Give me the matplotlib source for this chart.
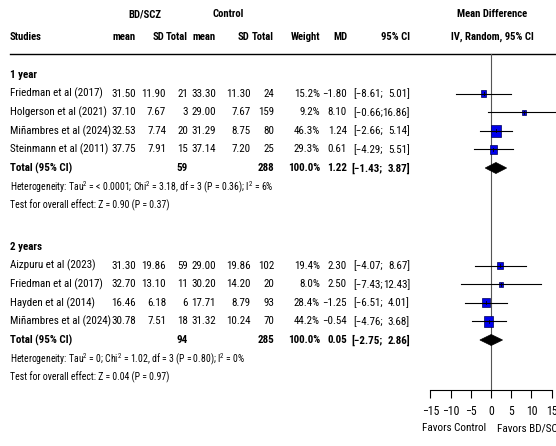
import matplotlib
matplotlib.use('Agg')
import matplotlib.pyplot as plt
from matplotlib.patches import Rectangle, Polygon

FONT = 'Roboto Condensed'
plt.rcParams['font.family'] = [FONT, 'Liberation Sans', 'DejaVu Sans']
plt.rcParams['mathtext.fontset'] = 'custom'
plt.rcParams['mathtext.rm'] = FONT
plt.rcParams['mathtext.it'] = FONT
plt.rcParams['mathtext.bf'] = FONT + ':bold'
plt.rcParams['axes.unicode_minus'] = True

# ---------------- data ----------------
studies_1y = ["Friedman et al (2017)", "Holgerson et al (2021)", "Miñambres et al (2024)", "Steinmann et al (2011)"]
bd_mean_1y = [31.50, 37.10, 32.53, 37.75]
bd_sd_1y = [11.90, 7.67, 7.74, 7.91]
bd_n_1y = [21, 3, 20, 15]
ct_mean_1y = [33.30, 29.00, 31.29, 37.14]
ct_sd_1y = [11.30, 7.67, 8.75, 7.20]
ct_n_1y = [24, 159, 80, 25]
weight_1y = [15.2, 9.2, 46.3, 29.3]
md_1y = [-1.80, 8.10, 1.24, 0.61]
lo_1y = [-8.61, -0.66, -2.66, -4.29]
hi_1y = [5.01, 16.86, 5.14, 5.51]
total_1y = [1.22, -1.43, 3.87]
ntot_1y = [59, 288]
het_1y = r"Heterogeneity: Tau$^2$ = < 0.0001; Chi$^2$ = 3.18, df = 3 (P = 0.36); I$^2$ = 6%"
test_1y = "Test for overall effect: Z = 0.90 (P = 0.37)"

studies_2y = ["Aizpuru et al (2023)", "Friedman et al (2017)", "Hayden et al (2014)", "Miñambres et al (2024)"]
bd_mean_2y = [31.30, 32.70, 16.46, 30.78]
bd_sd_2y = [19.86, 13.10, 6.18, 7.51]
bd_n_2y = [59, 11, 6, 18]
ct_mean_2y = [29.00, 30.20, 17.71, 31.32]
ct_sd_2y = [19.86, 14.20, 8.79, 10.24]
ct_n_2y = [102, 20, 93, 70]
weight_2y = [19.4, 8.0, 28.4, 44.2]
md_2y = [2.30, 2.50, -1.25, -0.54]
lo_2y = [-4.07, -7.43, -6.51, -4.76]
hi_2y = [8.67, 12.43, 4.01, 3.68]
total_2y = [0.05, -2.75, 2.86]
ntot_2y = [94, 285]
het_2y = r"Heterogeneity: Tau$^2$ = 0; Chi$^2$ = 1.02, df = 3 (P = 0.80); I$^2$ = 0%"
test_2y = "Test for overall effect: Z = 0.04 (P = 0.97)"

xticks = [-15, -10, -5, 0, 5, 10, 15]

# ---------------- layout ----------------
W, H = 556, 446
fig = plt.figure(figsize=(W / 100, H / 100), dpi=100)
tax = fig.add_axes([0, 0, 1, 1])
tax.set_xlim(0, W)
tax.set_ylim(H, 0)
tax.axis('off')

# forest axes: x in MD units, y in pixel rows
ZERO_PX, SCALE = 491.0, 4.04
FX0 = 410
fax = fig.add_axes([FX0 / W, 0, (W - FX0) / W, 1])
fax.set_xlim((FX0 - ZERO_PX) / SCALE, (W - ZERO_PX) / SCALE)
fax.set_ylim(H, 0)
fax.patch.set_visible(False)
for s in ['left', 'right', 'top']:
    fax.spines[s].set_visible(False)
AXIS_Y = 390
fax.spines['bottom'].set_position(('data', AXIS_Y))
fax.spines['bottom'].set_bounds(min(xticks), max(xticks))
fax.spines['bottom'].set_linewidth(0.8)
fax.set_yticks([])
fax.set_xticks(xticks)
fax.set_xticklabels([str(v).replace('-', '\u2212') for v in xticks])
fax.tick_params(axis='x', direction='out', length=6, width=0.8, pad=5, labelsize=8.5)

FS = 7.9
FS_HEAD = 7.7
FS_SMALL = 7
C_XS = dict(bd_mean=136, bd_sd=166, bd_n=188, ct_mean=216, ct_sd=251, ct_n=274,
            weight=320, md=347, ci_lo=383, ci_hi=410)


def txt(x, y, s, ha='right', bold=False, size=FS):
    tax.text(x, y, s, ha=ha, va='center', fontsize=size,
             fontweight='bold' if bold else 'normal')


def num(v, fmt="{:.2f}"):
    return fmt.format(v).replace('-', '\u2212')


# headers
txt(145, 14, "BD/SCZ", ha='center', bold=True, size=FS_HEAD)
txt(228, 14, "Control", ha='center', bold=True, size=FS_HEAD)
txt(492, 14, "Mean Difference", ha='center', bold=True, size=FS_HEAD)
HY = 37
txt(10, HY, "Studies", ha='left', bold=True, size=FS_HEAD)
head_shift = dict(bd_sd=-2, ct_sd=-2)
for key, lab in [('bd_mean', 'mean'), ('bd_sd', 'SD'), ('bd_n', 'Total'),
                 ('ct_mean', 'mean'), ('ct_sd', 'SD'), ('ct_n', 'Total'),
                 ('weight', 'Weight'), ('md', 'MD'), ('ci_hi', '95% CI')]:
    txt(C_XS[key] + head_shift.get(key, 0), HY, lab, bold=True, size=FS_HEAD)
txt(492, HY, "IV, Random, 95% CI", ha='center', bold=True, size=FS_HEAD)
SEP_Y = 54
tax.plot([10, W], [SEP_Y, SEP_Y], color='black', lw=1.0)

# zero line
fax.plot([0, 0], [SEP_Y, AXIS_Y], color='#555555', lw=0.8, zorder=1)

STEP = 18.6
BOX_K = 1.40


def group(y0, title, studies, bm, bs, bn, cm, cs, cn, wt, md, lo, hi, tot, ntot, het, test):
    txt(10, y0, title, ha='left', bold=True)
    for i in range(len(studies)):
        y = y0 + STEP * (i + 1)
        txt(10, y, studies[i], ha='left')
        txt(C_XS['bd_mean'], y, num(bm[i]))
        txt(C_XS['bd_sd'], y, num(bs[i]))
        txt(C_XS['bd_n'], y, str(bn[i]))
        txt(C_XS['ct_mean'], y, num(cm[i]))
        txt(C_XS['ct_sd'], y, num(cs[i]))
        txt(C_XS['ct_n'], y, str(cn[i]))
        txt(C_XS['weight'], y, num(wt[i], "{:.1f}%"))
        txt(C_XS['md'], y, num(md[i]))
        txt(C_XS['ci_lo'], y, "[" + num(lo[i]) + ";")
        txt(C_XS['ci_hi'], y, num(hi[i]) + "]")
        # forest marks
        wpx = BOX_K * wt[i] ** 0.5
        hpx = wpx * 1.25
        wd = wpx / SCALE
        fax.add_patch(Rectangle((md[i] - wd / 2, y - hpx / 2), wd, hpx,
                                facecolor='#0000ee', edgecolor='#000055', lw=0.5, zorder=2))
        fax.plot([lo[i], hi[i]], [y, y], color='black', lw=0.8, zorder=3)
        fax.plot([md[i], md[i]], [y - 1.5, y + 1.5], color='black', lw=0.6, zorder=3)
    yt = y0 + STEP * (len(studies) + 1)
    txt(10, yt, "Total (95% CI)", ha='left', bold=True)
    txt(C_XS['bd_n'], yt, str(ntot[0]), bold=True)
    txt(C_XS['ct_n'], yt, str(ntot[1]), bold=True)
    txt(C_XS['weight'], yt, "100.0%", bold=True)
    txt(C_XS['md'], yt, num(tot[0]), bold=True)
    txt(C_XS['ci_lo'], yt, "[" + num(tot[1]) + ";", bold=True)
    txt(C_XS['ci_hi'], yt, num(tot[2]) + "]", bold=True)
    dh = 5.5
    fax.add_patch(Polygon([[tot[1], yt], [tot[0], yt - dh], [tot[2], yt], [tot[0], yt + dh]],
                          closed=True, facecolor='black', edgecolor='black', lw=0.5, zorder=3))
    txt(10, yt + STEP, het, ha='left', size=FS_SMALL)
    txt(10, yt + 2 * STEP, test, ha='left', size=FS_SMALL)


group(75, "1 year", studies_1y, bd_mean_1y, bd_sd_1y, bd_n_1y, ct_mean_1y, ct_sd_1y, ct_n_1y,
      weight_1y, md_1y, lo_1y, hi_1y, total_1y, ntot_1y, het_1y, test_1y)
group(247, "2 years", studies_2y, bd_mean_2y, bd_sd_2y, bd_n_2y, ct_mean_2y, ct_sd_2y, ct_n_2y,
      weight_2y, md_2y, lo_2y, hi_2y, total_2y, ntot_2y, het_2y, test_2y)

# favours labels
txt(ZERO_PX - 5, 428, "Favors Control", ha='right', size=8)
txt(ZERO_PX + 6, 428, "Favors BD/SCZ", ha='left', size=8)

fig.savefig('out.png', dpi=100)
